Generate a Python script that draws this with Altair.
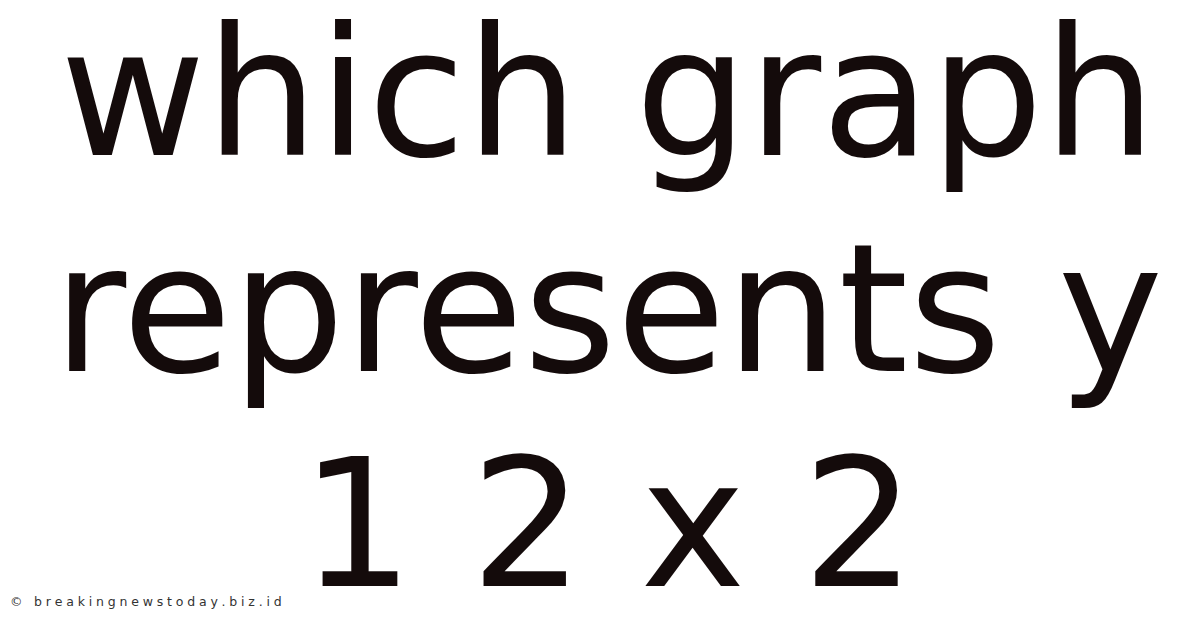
import altair as alt
import pandas as pd

# Title lines (the whole "chart" is typographic)
lines = ["which graph", "represents y", "1 2 x 2"]
rows = [0, 1, 2]
watermark = "© breakingnewstoday.biz.id"

df = pd.DataFrame({"row": rows, "line": lines})

# letter-spaced watermark: lay characters out with approximate DejaVu Sans advances
adv = {"©": 1.0, " ": 0.318, "b": .635, "r": .411, "e": .615, "a": .613, "k": .579,
       "i": .278, "n": .634, "g": .635, "w": .818, "s": .521, "t": .392, "o": .612,
       "d": .635, "y": .592, ".": .318, "z": .525}
wm_size = 12.5
spacing = 3.8
xs, chars = [], []
cur = 2.0
for ch in watermark:
    xs.append(cur)
    chars.append(ch)
    cur += adv.get(ch, 0.6) * wm_size + spacing
wm = pd.DataFrame({"pos": xs, "ch": chars})

main = alt.Chart(df).mark_text(
    font="DejaVu Sans",
    fontSize=178,
    baseline="alphabetic",
    align="center",
    color="#140b0b",
).encode(
    y=alt.Y("row:Q", scale=alt.Scale(domain=[0, 2], range=[147, 578], nice=False, zero=False), axis=None),
    x=alt.value(600),
    text="line:N",
)

mark = alt.Chart(wm).mark_text(
    font="DejaVu Sans",
    fontSize=wm_size,
    baseline="alphabetic",
    align="left",
    color="#333333",
).encode(
    x=alt.X("pos:Q", scale=alt.Scale(domain=[0, 1184], range=[0, 1184], nice=False, zero=False), axis=None),
    y=alt.value(598),
    text="ch:N",
)

chart = alt.layer(main, mark).properties(
    width=1184, height=612, padding=0, background="white",
    autosize=alt.AutoSizeParams(type="none")
).configure_view(stroke=None)

chart.save("out.html", embed_options={"renderer": "svg", "actions": False})
